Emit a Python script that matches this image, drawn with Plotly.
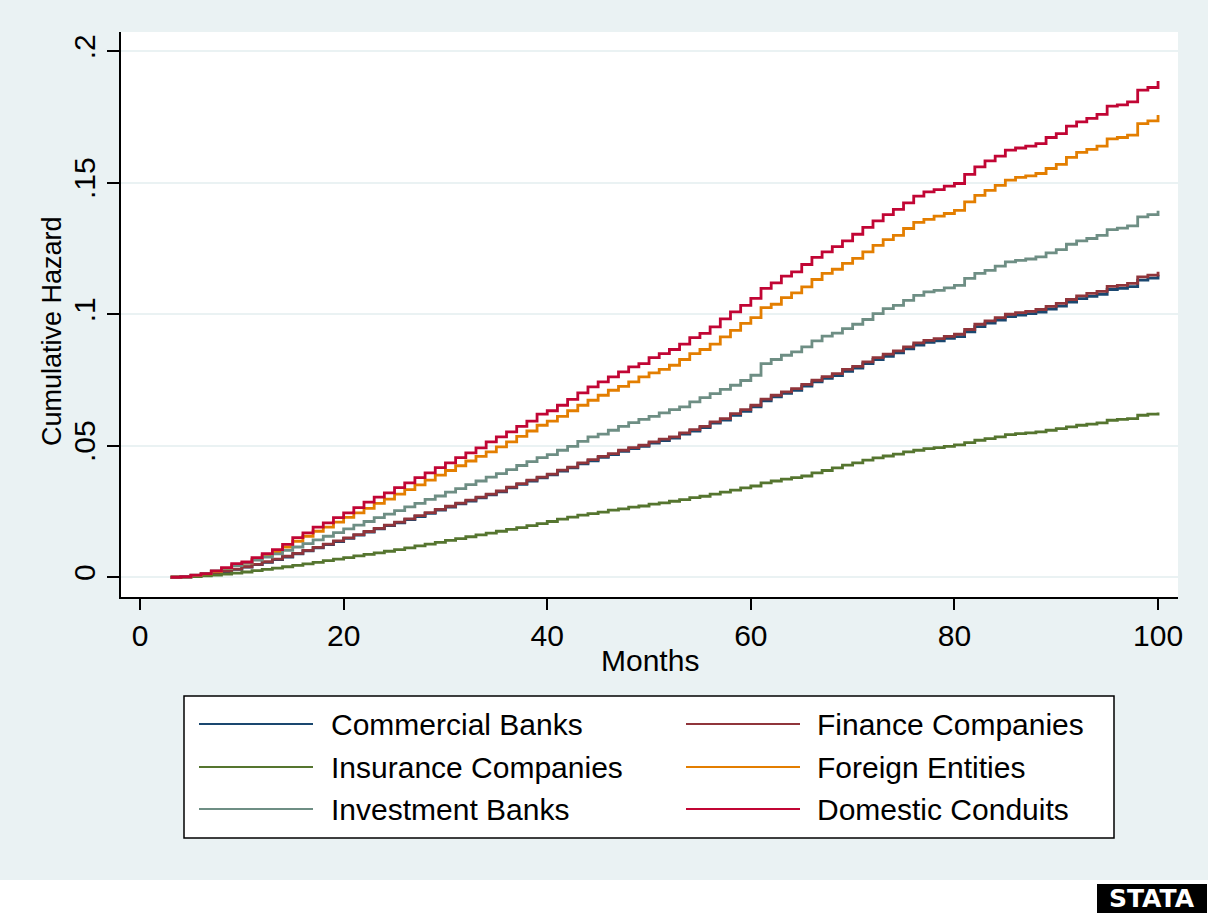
import plotly.graph_objects as go

# Months at risk (monthly steps) and Nelson-Aalen style cumulative hazards
months = list(range(3, 101))

commercial_banks = [
    0.0000, 0.0002, 0.0005, 0.0009, 0.0015, 0.0022, 0.0030, 0.0039, 0.0048, 0.0057,
    0.0067, 0.0077, 0.0089, 0.0100, 0.0112, 0.0124, 0.0136, 0.0148, 0.0160, 0.0172,
    0.0184, 0.0196, 0.0207, 0.0219, 0.0231, 0.0243, 0.0255, 0.0267, 0.0279, 0.0290,
    0.0302, 0.0313, 0.0325, 0.0340, 0.0353, 0.0366, 0.0378, 0.0389, 0.0404, 0.0416,
    0.0431, 0.0443, 0.0456, 0.0466, 0.0479, 0.0489, 0.0498, 0.0510, 0.0520, 0.0529,
    0.0544, 0.0556, 0.0569, 0.0586, 0.0598, 0.0616, 0.0631, 0.0648, 0.0671, 0.0686,
    0.0699, 0.0711, 0.0727, 0.0743, 0.0756, 0.0767, 0.0783, 0.0795, 0.0812, 0.0828,
    0.0840, 0.0853, 0.0868, 0.0883, 0.0893, 0.0899, 0.0908, 0.0915, 0.0933, 0.0953,
    0.0966, 0.0978, 0.0991, 0.0997, 0.1002, 0.1008, 0.1020, 0.1031, 0.1046, 0.1059,
    0.1068, 0.1076, 0.1094, 0.1098, 0.1105, 0.1130, 0.1137, 0.1150,
]

finance_companies = [
    0.0000, 0.0002, 0.0005, 0.0010, 0.0016, 0.0023, 0.0031, 0.0040, 0.0049, 0.0059,
    0.0069, 0.0080, 0.0091, 0.0102, 0.0114, 0.0126, 0.0138, 0.0150, 0.0162, 0.0174,
    0.0186, 0.0198, 0.0210, 0.0222, 0.0234, 0.0246, 0.0258, 0.0270, 0.0282, 0.0293,
    0.0305, 0.0316, 0.0328, 0.0343, 0.0356, 0.0369, 0.0381, 0.0392, 0.0407, 0.0419,
    0.0435, 0.0447, 0.0460, 0.0470, 0.0483, 0.0493, 0.0502, 0.0515, 0.0525, 0.0534,
    0.0549, 0.0561, 0.0574, 0.0591, 0.0603, 0.0622, 0.0637, 0.0654, 0.0677, 0.0692,
    0.0705, 0.0717, 0.0733, 0.0749, 0.0763, 0.0774, 0.0790, 0.0802, 0.0819, 0.0835,
    0.0848, 0.0861, 0.0876, 0.0891, 0.0901, 0.0907, 0.0916, 0.0924, 0.0942, 0.0962,
    0.0975, 0.0987, 0.1000, 0.1006, 0.1011, 0.1018, 0.1030, 0.1041, 0.1056, 0.1070,
    0.1079, 0.1087, 0.1106, 0.1110, 0.1117, 0.1142, 0.1149, 0.1162,
]

insurance_companies = [
    0.0000, 0.0001, 0.0003, 0.0005, 0.0008, 0.0012, 0.0016, 0.0020, 0.0025, 0.0030,
    0.0035, 0.0040, 0.0045, 0.0051, 0.0057, 0.0063, 0.0069, 0.0075, 0.0081, 0.0087,
    0.0093, 0.0099, 0.0105, 0.0112, 0.0119, 0.0126, 0.0133, 0.0140, 0.0147, 0.0154,
    0.0161, 0.0168, 0.0175, 0.0182, 0.0189, 0.0196, 0.0204, 0.0212, 0.0221, 0.0229,
    0.0236, 0.0242, 0.0248, 0.0255, 0.0260, 0.0267, 0.0271, 0.0278, 0.0283, 0.0289,
    0.0295, 0.0303, 0.0308, 0.0316, 0.0324, 0.0331, 0.0340, 0.0347, 0.0359, 0.0366,
    0.0373, 0.0379, 0.0385, 0.0397, 0.0406, 0.0416, 0.0426, 0.0435, 0.0445, 0.0454,
    0.0461, 0.0468, 0.0477, 0.0483, 0.0489, 0.0493, 0.0498, 0.0503, 0.0512, 0.0521,
    0.0527, 0.0534, 0.0542, 0.0546, 0.0549, 0.0553, 0.0559, 0.0565, 0.0572, 0.0578,
    0.0582, 0.0587, 0.0597, 0.0600, 0.0603, 0.0616, 0.0620, 0.0626,
]

foreign_entities = [
    0.0000, 0.0003, 0.0007, 0.0013, 0.0022, 0.0033, 0.0046, 0.0054, 0.0068, 0.0083,
    0.0098, 0.0115, 0.0137, 0.0156, 0.0175, 0.0191, 0.0210, 0.0228, 0.0245, 0.0262,
    0.0281, 0.0297, 0.0316, 0.0333, 0.0351, 0.0369, 0.0388, 0.0406, 0.0424, 0.0442,
    0.0460, 0.0477, 0.0496, 0.0515, 0.0536, 0.0556, 0.0578, 0.0594, 0.0612, 0.0633,
    0.0654, 0.0673, 0.0692, 0.0711, 0.0726, 0.0743, 0.0762, 0.0777, 0.0790, 0.0806,
    0.0828, 0.0850, 0.0866, 0.0886, 0.0914, 0.0939, 0.0965, 0.0987, 0.1025, 0.1038,
    0.1063, 0.1081, 0.1104, 0.1132, 0.1155, 0.1171, 0.1193, 0.1212, 0.1237, 0.1262,
    0.1284, 0.1300, 0.1326, 0.1349, 0.1361, 0.1373, 0.1383, 0.1395, 0.1427, 0.1452,
    0.1471, 0.1490, 0.1510, 0.1520, 0.1526, 0.1535, 0.1554, 0.1570, 0.1596, 0.1615,
    0.1627, 0.1639, 0.1667, 0.1672, 0.1681, 0.1725, 0.1735, 0.1757,
]

investment_banks = [
    0.0000, 0.0003, 0.0008, 0.0015, 0.0024, 0.0034, 0.0044, 0.0054, 0.0065, 0.0077,
    0.0089, 0.0102, 0.0115, 0.0128, 0.0142, 0.0156, 0.0170, 0.0184, 0.0198, 0.0212,
    0.0227, 0.0240, 0.0253, 0.0268, 0.0281, 0.0296, 0.0309, 0.0324, 0.0337, 0.0352,
    0.0366, 0.0381, 0.0394, 0.0409, 0.0425, 0.0440, 0.0455, 0.0466, 0.0483, 0.0498,
    0.0517, 0.0534, 0.0544, 0.0559, 0.0574, 0.0588, 0.0600, 0.0612, 0.0625, 0.0637,
    0.0648, 0.0667, 0.0683, 0.0698, 0.0714, 0.0730, 0.0748, 0.0768, 0.0812, 0.0828,
    0.0844, 0.0857, 0.0876, 0.0899, 0.0917, 0.0928, 0.0945, 0.0962, 0.0980, 0.1002,
    0.1021, 0.1034, 0.1053, 0.1072, 0.1085, 0.1091, 0.1100, 0.1110, 0.1136, 0.1155,
    0.1167, 0.1183, 0.1199, 0.1205, 0.1210, 0.1218, 0.1233, 0.1246, 0.1266, 0.1279,
    0.1288, 0.1300, 0.1322, 0.1327, 0.1336, 0.1370, 0.1379, 0.1393,
]

domestic_conduits = [
    0.0000, 0.0002, 0.0008, 0.0014, 0.0024, 0.0037, 0.0052, 0.0058, 0.0075, 0.0090,
    0.0105, 0.0125, 0.0151, 0.0169, 0.0191, 0.0207, 0.0227, 0.0245, 0.0265, 0.0286,
    0.0305, 0.0321, 0.0341, 0.0359, 0.0379, 0.0397, 0.0417, 0.0435, 0.0455, 0.0473,
    0.0492, 0.0515, 0.0534, 0.0553, 0.0574, 0.0594, 0.0620, 0.0633, 0.0654, 0.0676,
    0.0701, 0.0724, 0.0743, 0.0762, 0.0781, 0.0800, 0.0812, 0.0835, 0.0850, 0.0866,
    0.0886, 0.0911, 0.0927, 0.0952, 0.0982, 0.1009, 0.1034, 0.1060, 0.1098, 0.1119,
    0.1145, 0.1161, 0.1189, 0.1216, 0.1237, 0.1257, 0.1279, 0.1304, 0.1330, 0.1355,
    0.1379, 0.1399, 0.1423, 0.1449, 0.1465, 0.1474, 0.1487, 0.1497, 0.1532, 0.1560,
    0.1583, 0.1601, 0.1624, 0.1632, 0.1639, 0.1649, 0.1672, 0.1687, 0.1715, 0.1731,
    0.1745, 0.1760, 0.1791, 0.1796, 0.1807, 0.1852, 0.1862, 0.1887,
]

series_names = [
    "Commercial Banks", "Finance Companies", "Insurance Companies",
    "Foreign Entities", "Investment Banks", "Domestic Conduits",
]
series_values = [
    commercial_banks, finance_companies, insurance_companies,
    foreign_entities, investment_banks, domestic_conduits,
]
# Stata s2color palette: navy, maroon, forest_green, dkorange, teal, cranberry
series_colors = ["#1A476F", "#90353B", "#55752F", "#E37E00", "#6E8E84", "#C10534"]

x_ticks = [0, 20, 40, 60, 80, 100]
y_ticks = [0, 0.05, 0.1, 0.15, 0.2]
y_tick_labels = ["0", ".05", ".1", ".15", ".2"]

FONT = "Liberation Sans, Arial, Helvetica, sans-serif"
REGION_BG = "#EAF2F3"
W, H = 1208, 917
PLOT_L, PLOT_R, PLOT_T, PLOT_B = 121, 1178, 32, 597


def px_x(px):
    return (px - PLOT_L) / (PLOT_R - PLOT_L)


def px_y(py):
    return (PLOT_B - py) / (PLOT_B - PLOT_T)


fig = go.Figure()
for name, vals, col in zip(series_names, series_values, series_colors):
    fig.add_trace(go.Scatter(
        x=months, y=vals, mode="lines", name=name,
        line=dict(color=col, width=2.8, shape="hv"),
        showlegend=False,
    ))

shapes = []
annotations = []

# white strip under the graph region (logo area)
shapes.append(dict(type="rect", xref="paper", yref="paper", layer="below",
                   x0=px_x(-5), x1=px_x(W + 5), y0=px_y(880), y1=px_y(H + 5),
                   fillcolor="white", line=dict(width=0)))

# legend frame
shapes.append(dict(type="rect", xref="paper", yref="paper",
                   x0=px_x(184), x1=px_x(1114), y0=px_y(696), y1=px_y(838),
                   fillcolor="white", line=dict(color="black", width=1.5)))
row_y = [724, 767, 809]
col_x = [(199, 313, 329), (686, 800, 815)]
for i, (name, col) in enumerate(zip(series_names, series_colors)):
    r, c = divmod(i, 2)
    lx0, lx1, tx = col_x[c]
    yy = px_y(row_y[r])
    shapes.append(dict(type="line", xref="paper", yref="paper",
                       x0=px_x(lx0), x1=px_x(lx1), y0=yy, y1=yy,
                       line=dict(color=col, width=2)))
    annotations.append(dict(text=name, xref="paper", yref="paper",
                            x=px_x(tx), y=yy, xanchor="left", yanchor="middle",
                            showarrow=False, font=dict(family=FONT, size=30, color="black")))

# axis titles
annotations.append(dict(text="Months", xref="paper", yref="paper",
                        x=px_x(649.5), y=px_y(660), xanchor="center", yanchor="middle",
                        showarrow=False, font=dict(family=FONT, size=30, color="black")))
annotations.append(dict(text="Cumulative Hazard", xref="paper", yref="paper",
                        x=px_x(52), y=px_y(331), xanchor="center", yanchor="middle",
                        textangle=-90, showarrow=False,
                        font=dict(family=FONT, size=27, color="black")))

# Stata badge
shapes.append(dict(type="rect", xref="paper", yref="paper",
                   x0=px_x(1097), x1=px_x(1207), y0=px_y(884), y1=px_y(913),
                   fillcolor="black", line=dict(width=0)))
annotations.append(dict(text="<b>STATA</b>", xref="paper", yref="paper",
                        x=px_x(1152), y=px_y(899), xanchor="center", yanchor="middle",
                        showarrow=False,
                        font=dict(family="DejaVu Sans, sans-serif", size=25, color="white")))

fig.update_layout(
    width=W, height=H,
    margin=dict(l=PLOT_L, r=W - PLOT_R, t=PLOT_T, b=H - PLOT_B, pad=0),
    paper_bgcolor=REGION_BG,
    plot_bgcolor="white",
    font=dict(family=FONT, size=30, color="black"),
    shapes=shapes,
    annotations=annotations,
    xaxis=dict(
        range=[-1.87, 101.96], tickvals=x_ticks, ticks="outside", ticklen=11,
        tickwidth=1.5, tickcolor="black", showline=True, linecolor="black",
        linewidth=1.5, showgrid=False, zeroline=False,
        tickfont=dict(family=FONT, size=30, color="black"),
    ),
    yaxis=dict(
        range=[-0.0075, 0.2073], tickvals=y_ticks, ticktext=y_tick_labels,
        tickangle=-90, ticks="outside", ticklen=12, tickwidth=1.5, tickcolor="black",
        showline=True, linecolor="black", linewidth=1.5,
        showgrid=True, gridcolor=REGION_BG, gridwidth=2, zeroline=False,
        tickfont=dict(family=FONT, size=30, color="black"),
    ),
)

fig.write_html("out.html")
